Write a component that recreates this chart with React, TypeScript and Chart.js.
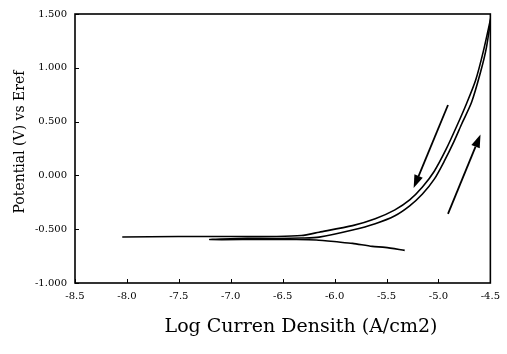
import React, { useEffect, useRef } from "react";
import { Chart, registerables } from "chart.js";

Chart.register(...registerables);

// Forward scan (cathodic end -> Ecorr -> anodic, lower/right branch)
const forwardLogI = [
  -5.325, -5.514, -5.637, -5.827, -5.96, -6.178, -6.367, -6.746, -7.201,
  -6.936, -6.557, -6.32, -6.149, -5.827, -5.609, -5.419, -5.277, -5.154,
  -5.04, -4.945, -4.851, -4.775, -4.68, -4.595, -4.538, -4.49,
];
const forwardE = [
  -0.697, -0.669, -0.66, -0.632, -0.619, -0.6, -0.596, -0.596, -0.596,
  -0.586, -0.586, -0.582, -0.574, -0.508, -0.449, -0.375, -0.283, -0.173,
  -0.035, 0.13, 0.314, 0.48, 0.682, 0.958, 1.188, 1.49,
];

// Reverse scan (from vertex back down, upper/left branch)
const reverseLogI = [
  -4.49, -4.566, -4.642, -4.727, -4.822, -4.927, -5.04, -5.154, -5.277,
  -5.419, -5.609, -5.827, -6.149, -6.32, -6.557, -7.031, -7.505, -8.045,
];
const reverseE = [
  1.49, 1.16, 0.884, 0.673, 0.461, 0.241, 0.039, -0.108, -0.228, -0.32,
  -0.403, -0.467, -0.528, -0.559, -0.568, -0.568, -0.568, -0.573,
];

// Scan-direction arrows: [startLogI, startE, tipLogI, tipE]
const arrowDown = [-4.908, 0.654, -5.239, -0.118];
const arrowUp = [-4.908, -0.357, -4.595, 0.379];
const arrows = [arrowDown, arrowUp];

const xTickValues = [-8.5, -8.0, -7.5, -7.0, -6.5, -6.0, -5.5, -5.0, -4.5];
const yTickValues = [-1.0, -0.5, 0.0, 0.5, 1.0, 1.5];

const xTitle = "Log Curren Densith (A/cm2)";
const yTitle = "Potential (V) vs Eref";

const SERIF = "'DejaVu Serif', serif";

const framePlugin = {
  id: "framePlugin",
  afterDraw(chart: any) {
    const { ctx, chartArea, scales } = chart;
    const xs = scales.x;
    const ys = scales.y;
    ctx.save();
    ctx.strokeStyle = "#000";
    ctx.lineWidth = 1.6;
    ctx.strokeRect(chartArea.left, chartArea.top, chartArea.right - chartArea.left, chartArea.bottom - chartArea.top);
    ctx.lineWidth = 1;
    ctx.beginPath();
    xTickValues.forEach((v) => {
      const px = Math.round(xs.getPixelForValue(v)) + 0.5;
      ctx.moveTo(px, chartArea.bottom);
      ctx.lineTo(px, chartArea.bottom - 4);
    });
    yTickValues.forEach((v) => {
      const py = Math.round(ys.getPixelForValue(v)) + 0.5;
      ctx.moveTo(chartArea.left, py);
      ctx.lineTo(chartArea.left + 4, py);
    });
    ctx.stroke();

    // arrows
    arrows.forEach((a) => {
      const x0 = xs.getPixelForValue(a[0]);
      const y0 = ys.getPixelForValue(a[1]);
      const x1 = xs.getPixelForValue(a[2]);
      const y1 = ys.getPixelForValue(a[3]);
      const ang = Math.atan2(y1 - y0, x1 - x0);
      const headLen = 13;
      const headW = 4.5;
      const bx = x1 - headLen * Math.cos(ang);
      const by = y1 - headLen * Math.sin(ang);
      ctx.lineWidth = 1.8;
      ctx.beginPath();
      ctx.moveTo(x0, y0);
      ctx.lineTo(bx, by);
      ctx.stroke();
      ctx.beginPath();
      ctx.moveTo(x1, y1);
      ctx.lineTo(bx + headW * Math.sin(ang), by - headW * Math.cos(ang));
      ctx.lineTo(bx - headW * Math.sin(ang), by + headW * Math.cos(ang));
      ctx.closePath();
      ctx.fillStyle = "#000";
      ctx.fill();
    });

    // axis titles
    ctx.fillStyle = "#000";
    ctx.textAlign = "center";
    ctx.textBaseline = "middle";
    ctx.font = `19px ${SERIF}`;
    ctx.fillText(xTitle, 301, 327);
    ctx.translate(20, 142);
    ctx.rotate(-Math.PI / 2);
    ctx.font = `14px ${SERIF}`;
    ctx.fillText(yTitle, 0, 0);
    ctx.restore();
  },
};

export default function App() {
  const ref = useRef<HTMLCanvasElement | null>(null);
  useEffect(() => {
    if (!ref.current) return;
    const fwd = forwardLogI.map((x, i) => ({ x, y: forwardE[i] }));
    const rev = reverseLogI.map((x, i) => ({ x, y: reverseE[i] }));
    const chart = new Chart(ref.current, {
      type: "scatter",
      data: {
        datasets: [
          {
            label: "Forward",
            data: fwd,
            showLine: true,
            borderColor: "#000",
            borderWidth: 1.6,
            pointRadius: 0,
            tension: 0.25,
          },
          {
            label: "Reverse",
            data: rev,
            showLine: true,
            borderColor: "#000",
            borderWidth: 1.6,
            pointRadius: 0,
            tension: 0.25,
          },
        ],
      },
      options: {
        animation: false,
        responsive: false,
        layout: { padding: { top: 11, right: 10, left: 0, bottom: 0 } },
        plugins: { legend: { display: false }, tooltip: { enabled: false } },
        scales: {
          x: {
            type: "linear",
            min: -8.5,
            max: -4.5,
            afterFit: (s: any) => {
              s.height = 71;
            },
            afterBuildTicks: (s: any) => {
              s.ticks = xTickValues.map((v) => ({ value: v }));
            },
            grid: { display: false, drawTicks: false },
            border: { display: false },
            ticks: {
              padding: 7,
              color: "#000",
              font: { family: SERIF, size: 10 },
              maxRotation: 0,
              autoSkip: false,
              callback: (v: any) => Number(v).toFixed(1),
            },
            title: { display: false, text: xTitle },
          },
          y: {
            type: "linear",
            min: -1.0,
            max: 1.5,
            afterFit: (s: any) => {
              s.width = 75;
            },
            afterBuildTicks: (s: any) => {
              s.ticks = yTickValues.map((v) => ({ value: v }));
            },
            grid: { display: false, drawTicks: false },
            border: { display: false },
            ticks: {
              padding: 8,
              color: "#000",
              font: { family: SERIF, size: 10 },
              autoSkip: false,
              callback: (v: any) => Number(v).toFixed(3),
            },
            title: { display: false, text: yTitle },
          },
        },
      },
      plugins: [framePlugin],
    });
    return () => chart.destroy();
  }, []);
  return (
    <div style={{ position: "fixed", left: 0, top: 0, width: 507, height: 354, background: "#fff" }}>
      <canvas ref={ref} width={507} height={354} style={{ display: "block" }} />
    </div>
  );
}
